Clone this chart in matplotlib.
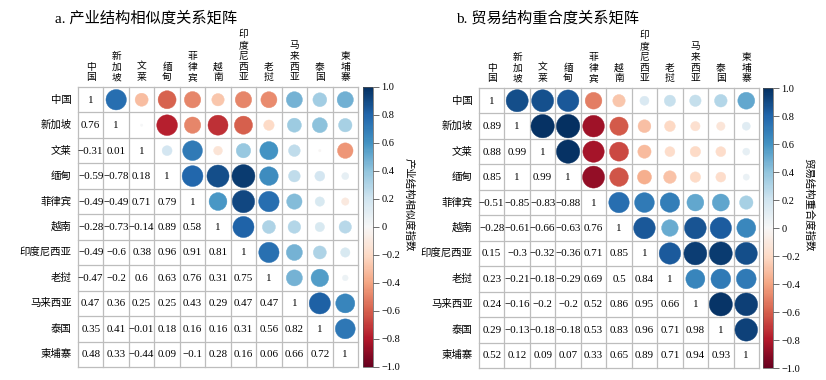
import numpy as np
import matplotlib
matplotlib.use('Agg')
import matplotlib.pyplot as plt
from matplotlib.patches import Circle
from matplotlib.colors import Normalize

plt.rcParams['font.family'] = ['Liberation Serif', 'Noto Sans CJK SC', 'DejaVu Sans']
plt.rcParams['axes.unicode_minus'] = True

# =============================================================================
# Data (lower triangles)
# =============================================================================
names = ['中国', '新加坡', '文莱', '缅甸', '菲律宾', '越南', '印度尼西亚',
         '老挝', '马来西亚', '泰国', '柬埔寨']

ind_rows = [
    [1],
    [0.76, 1],
    [-0.31, 0.01, 1],
    [-0.59, -0.78, 0.18, 1],
    [-0.49, -0.49, 0.71, 0.79, 1],
    [-0.28, -0.73, -0.14, 0.89, 0.58, 1],
    [-0.49, -0.6, 0.38, 0.96, 0.91, 0.81, 1],
    [-0.47, -0.2, 0.6, 0.63, 0.76, 0.31, 0.75, 1],
    [0.47, 0.36, 0.25, 0.25, 0.43, 0.29, 0.47, 0.47, 1],
    [0.35, 0.41, -0.01, 0.18, 0.16, 0.16, 0.31, 0.56, 0.82, 1],
    [0.48, 0.33, -0.44, 0.09, -0.1, 0.28, 0.16, 0.06, 0.66, 0.72, 1],
]

trade_rows = [
    [1],
    [0.89, 1],
    [0.88, 0.99, 1],
    [0.85, 1, 0.99, 1],
    [-0.51, -0.85, -0.83, -0.88, 1],
    [-0.28, -0.61, -0.66, -0.63, 0.76, 1],
    [0.15, -0.3, -0.32, -0.36, 0.71, 0.85, 1],
    [0.23, -0.21, -0.18, -0.29, 0.69, 0.5, 0.84, 1],
    [0.24, -0.16, -0.2, -0.2, 0.52, 0.86, 0.95, 0.66, 1],
    [0.29, -0.13, -0.18, -0.18, 0.53, 0.83, 0.96, 0.71, 0.98, 1],
    [0.52, 0.12, 0.09, 0.07, 0.33, 0.65, 0.89, 0.71, 0.94, 0.93, 1],
]

titles = ['a. 产业结构相似度关系矩阵', 'b. 贸易结构重合度关系矩阵']
cb_labels = ['产业结构相似度指数', '贸易结构重合度指数']
cb_ticks = [1.0, 0.8, 0.6, 0.4, 0.2, 0.0, -0.2, -0.4, -0.6, -0.8, -1.0]
cb_ticklabels = ['1.0', '0.8', '0.6', '0.4', '0.2', '0', '\u22120.2', '\u22120.4',
                 '\u22120.6', '\u22120.8', '\u22121.0']


def full_matrix(rows):
    n = len(rows)
    m = np.zeros((n, n))
    for i, r in enumerate(rows):
        for j, v in enumerate(r):
            m[i, j] = v
            m[j, i] = v
    return m


def fmt(v):
    s = f"{round(v, 2):g}"
    return s.replace('-', '\u2212')


cmap = plt.get_cmap('RdBu')
norm = Normalize(-1, 1)

fig = plt.figure(figsize=(8.26, 3.8), dpi=100)
W, H = 826, 380

# pixel layout: grid left, grid top, colorbar left, title x, cb label x
panels = [
    dict(gx=78, gy=87, cbx=363, tx=55, lx=409, data=ind_rows),
    dict(gx=479, gy=88, cbx=763, tx=456, lx=809, data=trade_rows),
]
size = 280

for k, p in enumerate(panels):
    m = full_matrix(p['data'])
    n = m.shape[0]
    ax = fig.add_axes([p['gx'] / W, (H - p['gy'] - size) / H, size / W, size / H])
    ax.set_xlim(0, n)
    ax.set_ylim(n, 0)
    ax.set_axis_off()
    for q in range(n + 1):
        ax.plot([0, n], [q, q], color='#BDBDBD', lw=0.9, zorder=1, clip_on=False)
        ax.plot([q, q], [0, n], color='#BDBDBD', lw=0.9, zorder=1, clip_on=False)
    for i in range(n):
        for j in range(n):
            v = m[i, j]
            if j <= i:
                ax.text(j + 0.5, i + 0.52, fmt(v), ha='center', va='center',
                        fontsize=7.9, color='black')
            else:
                c = cmap(norm(v))
                ax.add_patch(Circle((j + 0.5, i + 0.5), 0.46 * np.sqrt(abs(v)),
                                    facecolor=c, edgecolor=c, lw=0.3, zorder=2))
    # row labels
    for i, name in enumerate(names):
        ax.text(-0.25, i + 0.5, name, ha='right', va='center', fontsize=7.5,
                family=['Noto Sans CJK SC'])
    # column labels, stacked vertically
    for j, name in enumerate(names):
        ax.text(j + 0.5, -0.18, '\n'.join(name), ha='center', va='bottom',
                fontsize=7, linespacing=1.1, family=['Noto Sans CJK SC'])

    fig.text(p['tx'] / W, (H - 18) / H, titles[k], ha='left', va='center',
             fontsize=11, family=['Liberation Serif', 'Noto Sans CJK SC'])

    cax = fig.add_axes([p['cbx'] / W, (H - p['gy'] - size) / H, 10 / W, size / H])
    sm = plt.cm.ScalarMappable(norm=norm, cmap=cmap)
    cb = fig.colorbar(sm, cax=cax)
    cb.set_ticks(cb_ticks)
    cb.set_ticklabels(cb_ticklabels)
    cb.ax.tick_params(labelsize=7.5, length=4, width=0.6, color='#555555', pad=2)
    cb.outline.set_linewidth(0.5)
    cb.outline.set_edgecolor('#555555')
    fig.text(p['lx'] / W, (H - 205) / H, cb_labels[k], rotation=270,
             ha='center', va='center', fontsize=7.5, family=['Noto Sans CJK SC'])

fig.savefig('out.png', dpi=100)
